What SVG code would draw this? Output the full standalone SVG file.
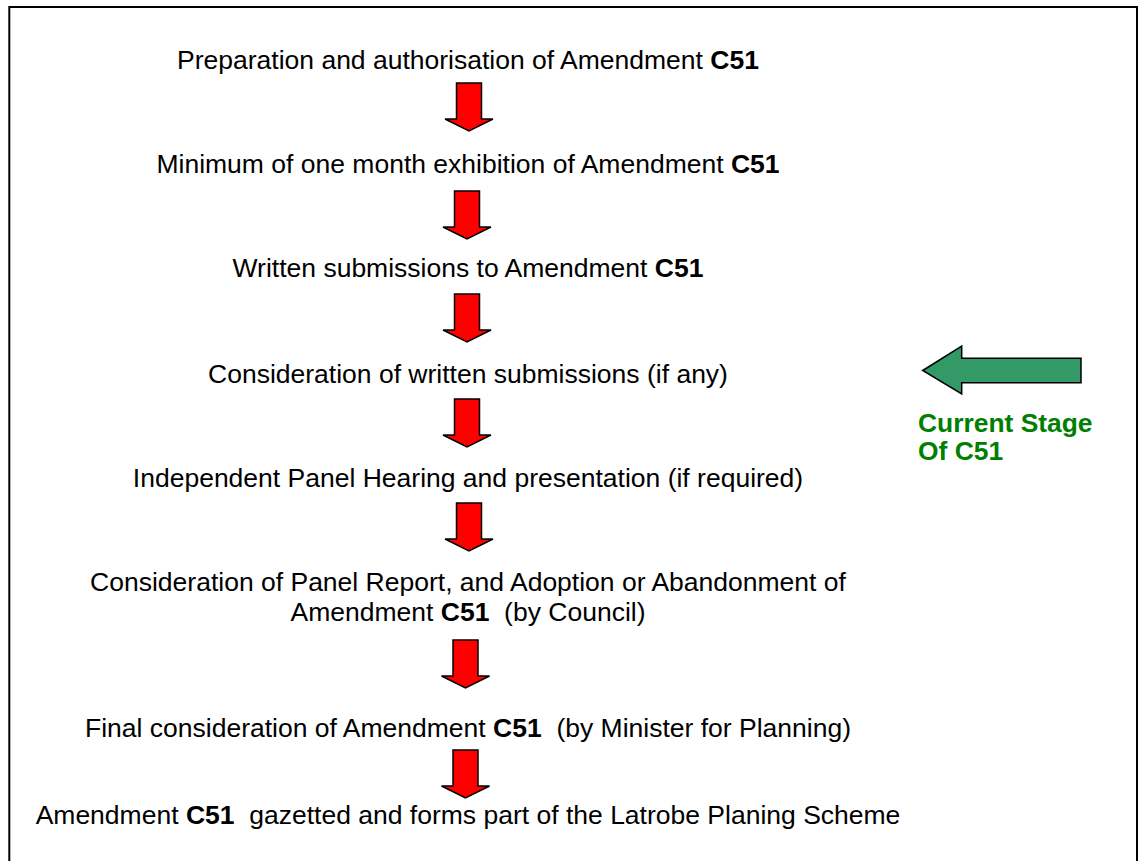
<svg xmlns="http://www.w3.org/2000/svg" width="1138" height="861" viewBox="0 0 1138 861">
<style>
.t{font-family:"Liberation Sans",Arial,sans-serif;font-size:26.5px;fill:#000;text-anchor:middle;white-space:pre}
.b{font-weight:bold}
.g{font-family:"Liberation Sans",Arial,sans-serif;font-size:26.4px;font-weight:bold;fill:#008000}
.ra{fill:#ff0000;stroke:#000;stroke-width:1.5;stroke-linejoin:miter}
</style>
<defs>
<path id="down" d="M-12.5,0 h25 v36 h11.5 L0,48 L-24,36 h11.5 z"/>
</defs>
<rect x="0" y="0" width="1138" height="861" fill="#fff"/>
<rect x="9.3" y="7" width="1127.7" height="900" fill="none" stroke="#000" stroke-width="2"/>
<g id="step1"><text class="t" x="468" y="69">Preparation and authorisation of Amendment <tspan class="b">C51</tspan></text></g>
<g id="step2"><text class="t" x="468" y="173">Minimum of one month exhibition of Amendment <tspan class="b">C51</tspan></text></g>
<g id="step3"><text class="t" x="468" y="277">Written submissions to Amendment <tspan class="b">C51</tspan></text></g>
<g id="step4"><text class="t" x="468" y="383">Consideration of written submissions (if any)</text></g>
<g id="step5"><text class="t" x="468" y="487">Independent Panel Hearing and presentation (if required)</text></g>
<g id="step6"><text class="t" x="468" y="591">Consideration of Panel Report, and Adoption or Abandonment of</text><text class="t" x="468" y="621">Amendment <tspan class="b">C51</tspan>  (by Council)</text></g>
<g id="step7"><text class="t" x="468" y="737">Final consideration of Amendment <tspan class="b">C51</tspan>  (by Minister for Planning)</text></g>
<g id="step8"><text class="t" x="468" y="824">Amendment <tspan class="b">C51</tspan>  gazetted and forms part of the Latrobe Planing Scheme</text></g>
<g id="connectors">
<use href="#down" class="ra" transform="translate(469,83)"/>
<use href="#down" class="ra" transform="translate(467,191)"/>
<use href="#down" class="ra" transform="translate(467,294)"/>
<use href="#down" class="ra" transform="translate(467,399)"/>
<use href="#down" class="ra" transform="translate(469,503)"/>
<use href="#down" class="ra" transform="translate(465.5,640)"/>
<use href="#down" class="ra" transform="translate(465.5,750)"/>
</g>
<g id="current-stage">
<path d="M922.7,370.5 L961.7,346 V358.3 H1081 V382.7 H961.7 V394 Z" fill="#339966" stroke="#000" stroke-width="1.5"/>
<text class="g" x="918" y="432">Current Stage</text>
<text class="g" x="918" y="460">Of C51</text>
</g>
</svg>
